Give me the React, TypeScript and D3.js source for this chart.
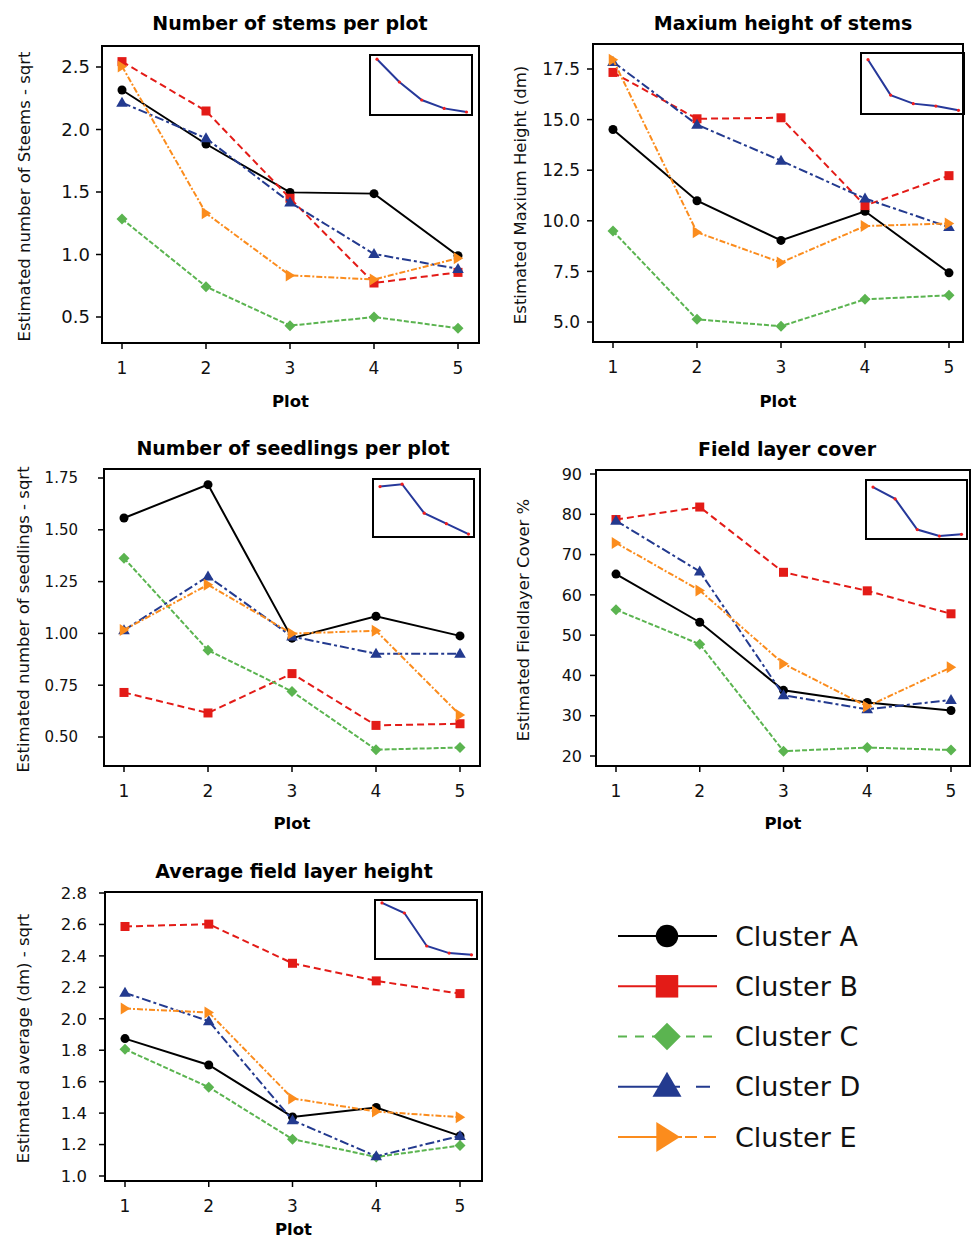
import React from "react";
import * as d3 from "d3";

// ---------- data ----------
const plots = [1, 2, 3, 4, 5];
const clusterNames = ["Cluster A", "Cluster B", "Cluster C", "Cluster D", "Cluster E"];

// rows: clusters A..E, columns: plots 1..5
const stemsValues = [
  [2.316, 1.884, 1.497, 1.487, 0.99],
  [2.543, 2.148, 1.45, 0.772, 0.857],
  [1.284, 0.743, 0.431, 0.5, 0.41],
  [2.215, 1.93, 1.417, 1.004, 0.885],
  [2.505, 1.33, 0.833, 0.8, 0.97],
];
const heightValues = [
  [14.51, 10.99, 9.03, 10.47, 7.43],
  [17.33, 15.04, 15.09, 10.75, 12.23],
  [9.49, 5.13, 4.79, 6.12, 6.32],
  [17.85, 14.75, 12.97, 11.1, 9.69],
  [17.96, 9.43, 7.94, 9.74, 9.87],
];
const seedlingsValues = [
  [1.557, 1.718, 0.977, 1.083, 0.988],
  [0.715, 0.616, 0.806, 0.556, 0.564],
  [1.363, 0.919, 0.72, 0.439, 0.449],
  [1.015, 1.275, 0.985, 0.902, 0.902],
  [1.017, 1.235, 0.999, 1.013, 0.606],
];
const coverValues = [
  [65.15, 53.2, 36.3, 33.3, 31.3],
  [78.7, 81.8, 65.6, 61.0, 55.3],
  [56.3, 47.75, 21.2, 22.1, 21.5],
  [78.4, 65.8, 35.1, 31.6, 33.9],
  [72.9, 61.1, 42.9, 32.3, 42.0],
];
const avgHeightValues = [
  [1.874, 1.706, 1.376, 1.436, 1.255],
  [2.587, 2.602, 2.353, 2.241, 2.16],
  [1.806, 1.565, 1.234, 1.121, 1.194],
  [2.165, 1.985, 1.355, 1.125, 1.255],
  [2.065, 2.04, 1.493, 1.41, 1.374],
];

// inset curves (relative 0..1)
const stemsInset = [0.93, 0.55, 0.25, 0.11, 0.05];
const heightInset = [0.89, 0.31, 0.17, 0.13, 0.06];
const seedlingsInset = [0.87, 0.91, 0.41, 0.23, 0.05];
const coverInset = [0.88, 0.68, 0.16, 0.05, 0.08];
const avgHeightInset = [0.95, 0.78, 0.22, 0.1, 0.07];

// tick labels
const stemsTicks = [0.5, 1.0, 1.5, 2.0, 2.5];
const heightTicks = [5.0, 7.5, 10.0, 12.5, 15.0, 17.5];
const seedlingsTicks = [0.5, 0.75, 1.0, 1.25, 1.5, 1.75];
const coverTicks = [20, 30, 40, 50, 60, 70, 80, 90];
const avgHeightTicks = [1.0, 1.2, 1.4, 1.6, 1.8, 2.0, 2.2, 2.4, 2.6, 2.8];

// ---------- styles ----------
const colors = ["#000000", "#e31b17", "#5bb450", "#233a8f", "#fb8c1d"];
const dashes = ["", "7,4", "5,2", "9,3,3,3", "6,2,2,2"];
const legendDashes = ["", "", "9,8", "62,16,14,20", "64,3,12,7,12,20"];
const FONT = "'DejaVu Sans', Verdana, sans-serif";

type Panel = {
  title: string;
  ylabel: string;
  values: number[][];
  inset: number[];
  ticks: number[];
  fmt: (v: number) => string;
  frame: [number, number, number, number];
  xr: [number, number];
  yr: [number, number, number, number]; // v0, px0, v1, px1
  inRect: [number, number, number, number];
  titleX: number;
  titleY: number;
  ylabX: number;
  ytFont: number;
  ytRight: number;
  plotY: number;
};

const panels: Panel[] = [
  {
    title: "Number of stems per plot",
    ylabel: "Estimated number of Steems - sqrt",
    values: stemsValues, inset: stemsInset, ticks: stemsTicks,
    fmt: d3.format(".1f"),
    frame: [102, 46, 479, 343], xr: [122, 458], yr: [0.5, 317, 2.5, 67],
    inRect: [370, 55, 472, 115], titleX: 290, titleY: 30, ylabX: 24, ytFont: 18, ytRight: 90, plotY: 407,
  },
  {
    title: "Maxium height of stems",
    ylabel: "Estimated Maxium Height (dm)",
    values: heightValues, inset: heightInset, ticks: heightTicks,
    fmt: d3.format(".1f"),
    frame: [593, 44, 963, 342], xr: [613, 949], yr: [5, 322, 17.5, 69],
    inRect: [861, 53, 964, 114], titleX: 783, titleY: 30, ylabX: 520, ytFont: 17, ytRight: 580, plotY: 407,
  },
  {
    title: "Number of seedlings per plot",
    ylabel: "Estimated number of seedlings - sqrt",
    values: seedlingsValues, inset: seedlingsInset, ticks: seedlingsTicks,
    fmt: d3.format(".2f"),
    frame: [104, 469, 480, 766], xr: [124, 460], yr: [0.5, 737, 1.75, 478],
    inRect: [373, 479, 474, 537], titleX: 293, titleY: 455, ylabX: 23, ytFont: 15, ytRight: 78, plotY: 829,
  },
  {
    title: "Field layer cover",
    ylabel: "Estimated Fieldlayer Cover %",
    values: coverValues, inset: coverInset, ticks: coverTicks,
    fmt: d3.format("d"),
    frame: [596, 470, 970, 766], xr: [616, 951], yr: [20, 756, 90, 474],
    inRect: [866, 480, 967, 539], titleX: 787, titleY: 456, ylabX: 523, ytFont: 16, ytRight: 582, plotY: 829,
  },
  {
    title: "Average field layer height",
    ylabel: "Estimated average (dm) - sqrt",
    values: avgHeightValues, inset: avgHeightInset, ticks: avgHeightTicks,
    fmt: d3.format(".1f"),
    frame: [105, 892, 482, 1181], xr: [125, 460], yr: [1.0, 1176, 2.8, 893],
    inRect: [375, 900, 477, 959], titleX: 294, titleY: 878, ylabX: 23, ytFont: 16.5, ytRight: 87, plotY: 1235,
  },
];

function Marker({ i, x, y, s = 1 }: { i: number; x: number; y: number; s?: number }) {
  const c = colors[i];
  if (i === 0) return <circle cx={x} cy={y} r={4.5 * s} fill={c} />;
  if (i === 1) return <rect x={x - 4.5 * s} y={y - 4.5 * s} width={9 * s} height={9 * s} fill={c} />;
  if (i === 2) {
    const r = 5.5 * s;
    return <path d={`M${x},${y - r}L${x + r},${y}L${x},${y + r}L${x - r},${y}Z`} fill={c} />;
  }
  if (i === 3) {
    const w = 5.8 * s, h = 10 * s;
    return <path d={`M${x},${y - h * 0.6}L${x + w},${y + h * 0.4}L${x - w},${y + h * 0.4}Z`} fill={c} />;
  }
  const w = 9.5 * s, h = 6 * s;
  return <path d={`M${x + w * 0.55},${y}L${x - w * 0.45},${y - h}L${x - w * 0.45},${y + h}Z`} fill={c} />;
}

function PanelView({ p }: { p: Panel }) {
  const [l, t, r, b] = p.frame;
  const x = d3.scaleLinear().domain([1, 5]).range(p.xr);
  const y = d3.scaleLinear().domain([p.yr[0], p.yr[2]]).range([p.yr[1], p.yr[3]]);
  const line = d3
    .line<number>()
    .x((_, k) => x(plots[k]))
    .y((v) => y(v));
  const [il, it, ir, ib] = p.inRect;
  const ix = d3.scaleLinear().domain([1, 5]).range([il + 7, ir - 5.5]);
  const iy = d3.scaleLinear().domain([0, 1]).range([ib, it]);
  const iline = d3
    .line<number>()
    .x((_, k) => ix(plots[k]))
    .y((v) => iy(v));
  const cx = (l + r) / 2;
  const cy = (t + b) / 2;
  return (
    <g>
      <text x={p.titleX} y={p.titleY} textAnchor="middle" fontFamily={FONT} fontWeight="bold" fontSize={19}>
        {p.title}
      </text>
      {/* y ticks */}
      {p.ticks.map((v) => (
        <g key={"y" + v}>
          <line x1={l - 6} x2={l} y1={y(v)} y2={y(v)} stroke="#000" strokeWidth={1.5} />
          <text
            x={p.ytRight}
            y={y(v)}
            dy="0.36em"
            textAnchor="end"
            fontFamily={FONT}
            fontSize={p.ytFont}
            fill="#111"
          >
            {p.fmt(v)}
          </text>
        </g>
      ))}
      {/* x ticks */}
      {plots.map((v) => (
        <g key={"x" + v}>
          <line x1={x(v)} x2={x(v)} y1={b} y2={b + 6} stroke="#000" strokeWidth={1.5} />
          <text x={x(v)} y={b + 31} textAnchor="middle" fontFamily={FONT} fontSize={17} fill="#111">
            {v}
          </text>
        </g>
      ))}
      <text
        transform={`translate(${p.ylabX},${cy + 2}) rotate(-90)`}
        textAnchor="middle"
        dy="0.36em"
        fontFamily={FONT}
        fontSize={16.5}
        fill="#111"
      >
        {p.ylabel}
      </text>
      <text x={cx} y={p.plotY} textAnchor="middle" fontFamily={FONT} fontWeight="bold" fontSize={16.5}>
        Plot
      </text>
      {/* series */}
      {p.values.map((vals, i) => (
        <g key={"s" + i}>
          <path
            d={line(vals) || ""}
            fill="none"
            stroke={colors[i]}
            strokeWidth={2}
            strokeDasharray={dashes[i] || undefined}
          />
          {vals.map((v, k) => (
            <Marker key={k} i={i} x={x(plots[k])} y={y(v)} />
          ))}
        </g>
      ))}
      {/* inset */}
      <rect x={il} y={it} width={ir - il} height={ib - it} fill="#fff" stroke="#000" strokeWidth={2} />
      <path d={iline(p.inset) || ""} fill="none" stroke="#26389a" strokeWidth={2} />
      {p.inset.map((v, k) => (
        <circle key={k} cx={ix(plots[k])} cy={iy(v)} r={1.6} fill="#f21d1d" />
      ))}
      {/* frame */}
      <rect x={l} y={t} width={r - l} height={b - t} fill="none" stroke="#000" strokeWidth={2} />
    </g>
  );
}

function Legend() {
  const x0 = 618, x1 = 717, mx = 667, tx = 735;
  const y = d3.scaleBand<string>().domain(clusterNames).range([911, 1162]);
  return (
    <g>
      {clusterNames.map((name, i) => {
        const yy = (y(name) || 0) + y.bandwidth() / 2;
        return (
          <g key={name}>
            <line
              x1={x0}
              x2={x1}
              y1={yy}
              y2={yy}
              stroke={colors[i]}
              strokeWidth={2}
              strokeDasharray={legendDashes[i] || undefined}
            />
            <Marker i={i} x={mx} y={yy} s={2.5} />
            <text x={tx} y={yy} dy="0.36em" fontFamily={FONT} fontSize={27} fill="#111">
              {name}
            </text>
          </g>
        );
      })}
    </g>
  );
}

export default function App() {
  return (
    <svg
      width={971}
      height={1241}
      style={{ position: "absolute", left: 0, top: 0, background: "#fff" }}
    >
      <rect width={971} height={1241} fill="#fff" />
      {panels.map((p, i) => (
        <PanelView key={i} p={p} />
      ))}
      <Legend />
    </svg>
  );
}
